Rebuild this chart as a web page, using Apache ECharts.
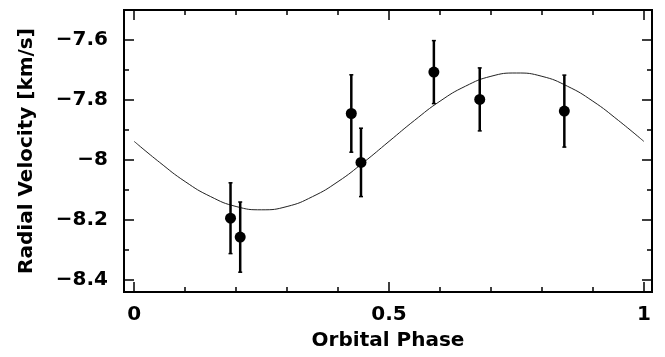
<!DOCTYPE html>
<html>
<head>
<meta charset="utf-8">
<script src="https://cdn.jsdelivr.net/npm/echarts@6/dist/echarts.min.js"></script>
<style>
  html, body { margin: 0; padding: 0; background: #fff; }
  #chart { width: 665px; height: 357px; }
</style>
</head>
<body>
<div id="chart"></div>
<script>
// measured points
var phase = [0.189, 0.208, 0.426, 0.445, 0.588, 0.678, 0.844];
var rv = [-8.194, -8.257, -7.845, -8.008, -7.707, -7.798, -7.837];
var rvErr = [0.118, 0.117, 0.129, 0.114, 0.105, 0.105, 0.120];

// fitted curve
var curvePhase = [0, 0.05, 0.1, 0.15, 0.2, 0.25, 0.3, 0.35, 0.4, 0.45, 0.5,
                  0.55, 0.6, 0.65, 0.7, 0.75, 0.8, 0.85, 0.9, 0.95, 1.0];
var curveRv = [-7.938, -8.008, -8.072, -8.122, -8.155, -8.166, -8.155, -8.122, -8.072, -8.008, -7.938,
               -7.868, -7.804, -7.754, -7.721, -7.710, -7.721, -7.754, -7.804, -7.868, -7.938];

// ticks
var xMajor = [0, 0.5, 1];
var xMinor = [0.1, 0.2, 0.3, 0.4, 0.6, 0.7, 0.8, 0.9];
var yMajor = [-8.4, -8.2, -8, -7.8, -7.6];
var yMinor = [-8.3, -8.1, -7.9, -7.7];

var font = 'DejaVu Sans';
var lineCol = '#000';

function xAx(pos, ticks, len, labels, name) {
  return {
    type: 'value', position: pos, min: -0.02, max: 1.016,
    name: name || '', nameLocation: 'middle', nameGap: 39,
    nameTextStyle: { fontFamily: font, fontWeight: 'bold', fontSize: 20, color: '#000' },
    axisLine: { show: true, onZero: false, lineStyle: { color: lineCol, width: 2 } },
    axisTick: { show: true, inside: true, length: len, customValues: ticks, lineStyle: { color: lineCol, width: 1.5 } },
    axisLabel: labels ? { show: true, customValues: ticks, margin: 13, fontFamily: font, fontWeight: 'bold', fontSize: 20, color: '#000',
      formatter: function (v) { return String(v); } } : { show: false },
    splitLine: { show: false }
  };
}

function yAx(pos, ticks, len, labels, name) {
  return {
    type: 'value', position: pos, min: -8.44, max: -7.5,
    name: name || '', nameLocation: 'middle', nameGap: 87,
    nameTextStyle: { fontFamily: font, fontWeight: 'bold', fontSize: 20, color: '#000' },
    axisLine: { show: true, onZero: false, lineStyle: { color: lineCol, width: 2 } },
    axisTick: { show: true, inside: true, length: len, customValues: ticks, lineStyle: { color: lineCol, width: 1.5 } },
    axisLabel: labels ? { show: true, customValues: ticks, margin: 16, fontFamily: font, fontWeight: 'bold', fontSize: 20, color: '#000',
      formatter: function (v) { return String(v).replace('-', '\u2212'); } } : { show: false },
    splitLine: { show: false }
  };
}

var points = phase.map(function (p, i) { return [p, rv[i]]; });
var bars = phase.map(function (p, i) { return [p, rv[i], rv[i] - rvErr[i], rv[i] + rvErr[i]]; });
var curve = curvePhase.map(function (p, i) { return [p, curveRv[i]]; });

var chart = echarts.init(document.getElementById('chart'), null, { renderer: 'canvas' });
chart.setOption({
  animation: false,
  backgroundColor: '#fff',
  grid: { left: 124, right: 13, top: 10, bottom: 65 },
  xAxis: [
    xAx('bottom', xMajor, 10, true, 'Orbital Phase'),
    xAx('bottom', xMinor, 5, false),
    xAx('top', xMajor, 10, false),
    xAx('top', xMinor, 5, false)
  ],
  yAxis: [
    yAx('left', yMajor, 10, true, 'Radial Velocity [km/s]'),
    yAx('left', yMinor, 5, false),
    yAx('right', yMajor, 10, false),
    yAx('right', yMinor, 5, false)
  ],
  series: [
    {
      type: 'line', data: curve, smooth: 0.5, showSymbol: false,
      lineStyle: { color: '#222', width: 1 }, z: 1
    },
    {
      type: 'custom', data: bars, z: 2,
      renderItem: function (params, api) {
        var lo = api.coord([api.value(0), api.value(2)]);
        var hi = api.coord([api.value(0), api.value(3)]);
        var st = { stroke: '#000', lineWidth: 2.5 };
        return {
          type: 'group',
          children: [
            { type: 'line', shape: { x1: lo[0], y1: lo[1], x2: hi[0], y2: hi[1] }, style: st },
            { type: 'line', shape: { x1: lo[0] - 2, y1: lo[1], x2: lo[0] + 2, y2: lo[1] }, style: { stroke: '#000', lineWidth: 1.5 } },
            { type: 'line', shape: { x1: hi[0] - 2, y1: hi[1], x2: hi[0] + 2, y2: hi[1] }, style: { stroke: '#000', lineWidth: 1.5 } }
          ]
        };
      }
    },
    {
      type: 'scatter', data: points, symbol: 'circle', symbolSize: 11,
      itemStyle: { color: '#000', opacity: 1 }, z: 3
    }
  ]
});
</script>
</body>
</html>
